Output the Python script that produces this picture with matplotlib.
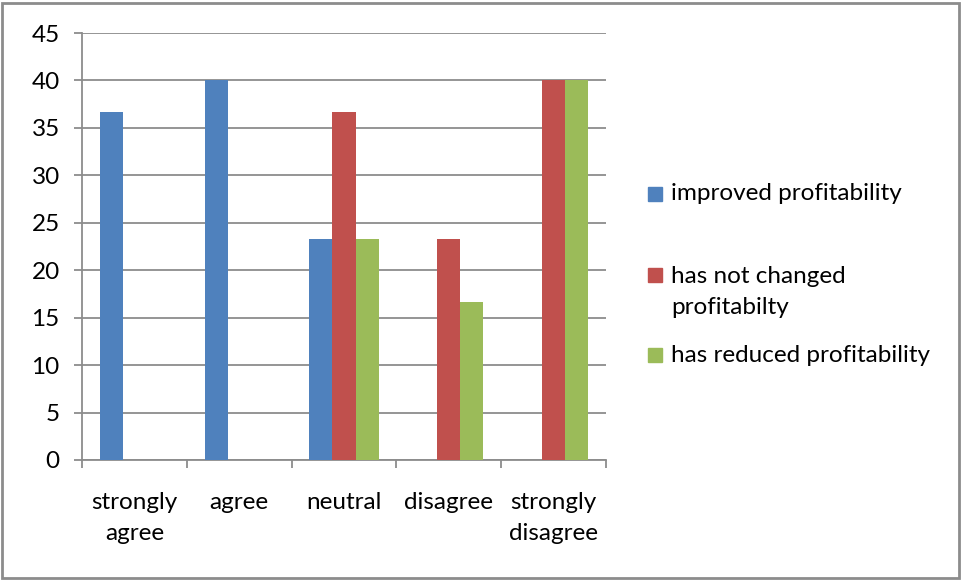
import numpy as np
import matplotlib.pyplot as plt
from matplotlib.patches import Rectangle

categories = ['strongly\nagree', 'agree', 'neutral', 'disagree', 'strongly\ndisagree']
improved = [36.7, 40.0, 23.3, 0, 0]
not_changed = [0, 0, 36.7, 23.3, 40.0]
reduced = [0, 0, 23.3, 16.7, 40.0]
series_names = ['improved profitability', 'has not changed\nprofitabilty', 'has reduced profitability']
colors = ['#4F81BD', '#C0504D', '#9BBB59']
yticks = [0, 5, 10, 15, 20, 25, 30, 35, 40, 45]


def main():
    plt.rcParams['font.family'] = ['Lato', 'DejaVu Sans']
    plt.rcParams['font.size'] = 17.5

    fig = plt.figure(figsize=(9.67, 5.81), dpi=100)
    ax = fig.add_axes([82 / 967, 1 - 460 / 581, 524 / 967, 427 / 581])

    x = np.arange(len(categories))
    w = 0.22
    for i, vals in enumerate([improved, not_changed, reduced]):
        ax.bar(x + (i - 1) * w, vals, width=w, color=colors[i], zorder=3)

    ax.set_xlim(-0.5, len(categories) - 0.5)
    ax.set_ylim(0, 45)
    ax.set_yticks(yticks)
    ax.yaxis.grid(True, color='#8c8c8c', linewidth=1.3, zorder=0)
    ax.set_xticks(x)
    ax.set_xticklabels(categories, linespacing=1.6)
    ax.set_xticks(np.arange(-0.5, len(categories)), minor=True)
    ax.tick_params(axis='x', which='major', length=0, pad=23)
    ax.tick_params(axis='x', which='minor', length=6, color='#8c8c8c', width=1.3, direction='out')
    ax.tick_params(axis='y', length=6, color='#8c8c8c', width=1.3, pad=10)
    for s in ['top', 'right']:
        ax.spines[s].set_visible(False)
    for s in ['left', 'bottom']:
        ax.spines[s].set_color('#8c8c8c')
        ax.spines[s].set_linewidth(1.3)

    # legend drawn by hand so the two-line entry lines up like the original
    legend_y = [194, 275, 355]
    for name, c, yy in zip(series_names, colors, legend_y):
        fy = 1 - yy / 581
        fig.add_artist(Rectangle((648 / 967, fy - 7 / 581), 14 / 967, 14 / 581,
                                 transform=fig.transFigure, color=c))
        if '\n' in name:
            fy += 9 / 581
        fig.text(671 / 967, fy, name, va='top' if '\n' in name else 'center',
                 ha='left', fontsize=17.5, linespacing=1.6)

    # outer chart border
    fig.add_artist(Rectangle((2 / 967, 3 / 581), 957 / 967, 575 / 581,
                             transform=fig.transFigure, fill=False,
                             edgecolor='#8c8c8c', linewidth=2))

    fig.savefig('out.png', dpi=100)


if __name__ == "__main__":
    main()
